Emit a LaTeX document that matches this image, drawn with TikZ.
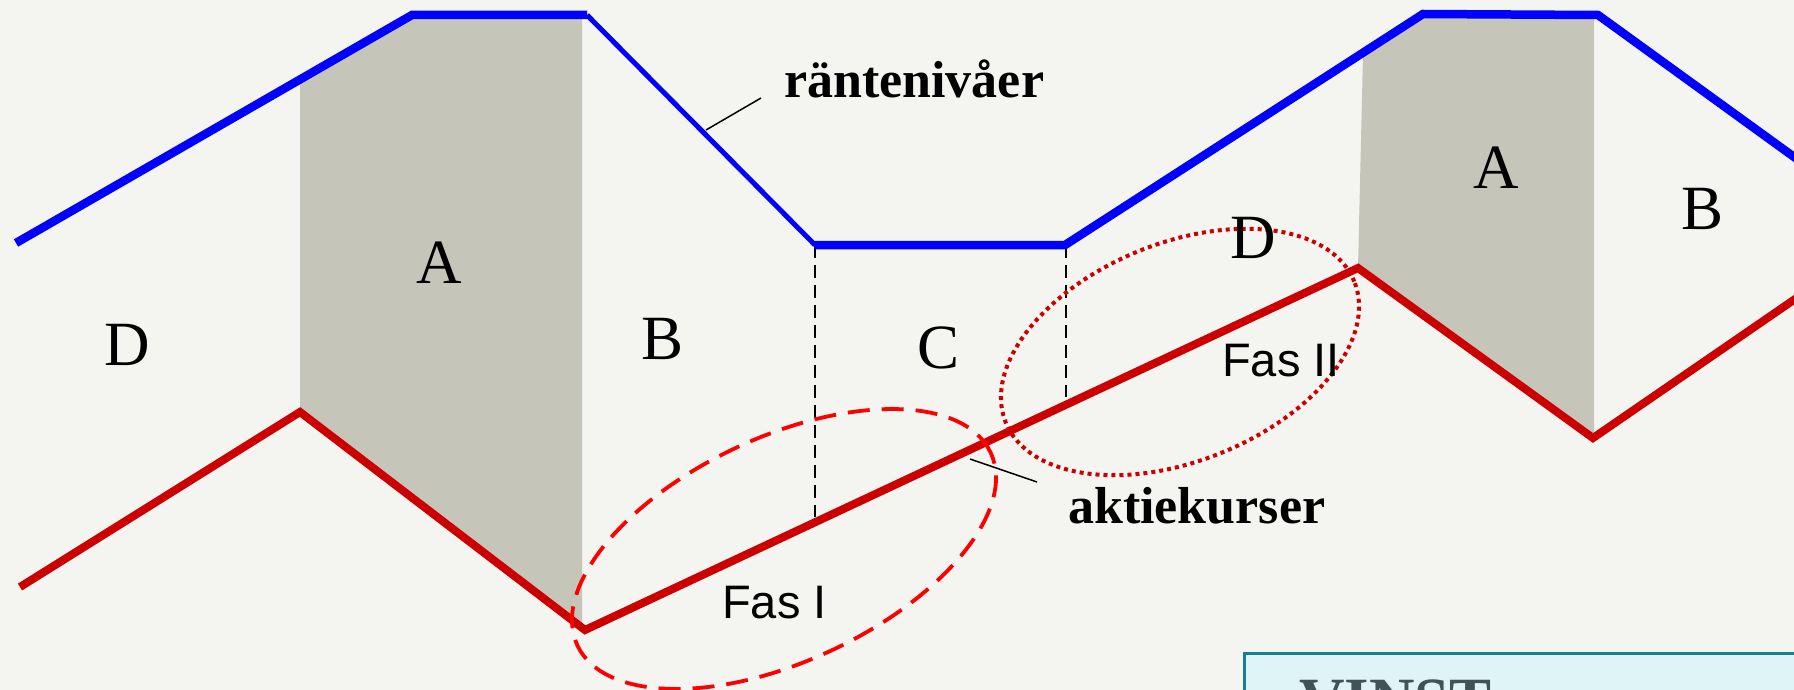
\documentclass[tikz,border=0pt]{standalone}
\usepackage{fontspec}
\setmainfont{Liberation Serif}
\newfontfamily\fassans{Liberation Sans}
\usetikzlibrary{shapes.geometric}
\definecolor{bgc}{HTML}{F4F4F0}
\definecolor{shadec}{HTML}{C5C5B9}
\definecolor{rline}{HTML}{CC0000}
\definecolor{bline}{HTML}{0000FF}
\definecolor{boxedge}{HTML}{15808F}
\definecolor{boxfill}{HTML}{DFF4F6}
\definecolor{boxtext}{HTML}{3F5358}
\begin{document}
\begin{tikzpicture}[x=1pt,y=-1pt,
  phase/.style={font=\fontsize{63}{70}\selectfont, anchor=base, inner sep=0pt},
  curvelabel/.style={font=\bfseries\fontsize{52}{60}\selectfont, anchor=base west, inner sep=0pt},
  faslabel/.style={font=\fassans\fontsize{47}{54}\selectfont, anchor=base west, inner sep=0pt},
  rate/.style={draw=bline, line width=8.5pt, line join=miter},
  ratethin/.style={draw=bline, line width=5pt},
  price/.style={draw=rline, line width=8pt, line join=miter},
  guide/.style={draw=black, line width=1.5pt, dash pattern=on 13pt off 7pt},
  leader/.style={draw=black, line width=1.5pt},
  shaded/.style={fill=shadec},
  fasone/.style={ellipse, draw=red, line width=3.8pt, dash pattern=on 22pt off 12pt,
    inner sep=0pt, minimum width=456pt, minimum height=224pt},
  fastwo/.style={ellipse, draw=rline, line width=4pt, dash pattern=on 4pt off 4pt,
    inner sep=0pt, minimum width=376pt, minimum height=218pt}
]
\path[use as bounding box, fill=bgc] (0,0) rectangle (1794,690);
\clip (0,0) rectangle (1794,690);

% rate line points
\coordinate (b0) at (16,243);
\coordinate (b1) at (412,15);
\coordinate (b2) at (587,15);
\coordinate (b3) at (815,245);
\coordinate (b4) at (1065,245);
\coordinate (b5) at (1423,14);
\coordinate (b6) at (1598,15);
\coordinate (b7) at (1830,183);
% price line points
\coordinate (r0) at (20,587);
\coordinate (r1) at (300,412);
\coordinate (r2) at (585,630);
\coordinate (r3) at (1358,268);
\coordinate (r4) at (1593,438);
\coordinate (r5) at (1830,275);

% shaded A regions
\path[shaded] (300,84) -- (412,19) -- (582,19) -- (582,628) -- (r1) -- cycle;
\path[shaded] (1363,55) -- (1423,18) -- (1594,18) -- (1594,438) -- (r3) -- cycle;

% guides
\coordinate (g1b) at (815,517);
\coordinate (g2t) at (1066,245);
\coordinate (g2b) at (1066,397);
\draw[guide] (b3) -- (g1b);
\draw[guide] (g2t) -- (g2b);

% curves
\draw[rate] (b0) -- (b1) -- (b2);
\draw[ratethin] (b2) -- (b3);
\draw[rate] (b3) -- (b4) -- (b5) -- (b6) -- (b7);
\draw[price] (r0) -- (r1) -- (r2) -- (r3) -- (r4) -- (r5);

% phase ellipses
\node[fasone, rotate=25] (ell1) at (784,549) {};
\node[fastwo, rotate=22] (ell2) at (1180,352) {};

% letters
\node[phase] (dL) at (127,365) {D};
\node[phase] (aL) at (439,283) {A};
\node[phase] (bL) at (663,359) {B};
\node[phase] (cM) at (938,368) {C};
\node[phase] (dR) at (1253,258) {D};
\node[phase] (aR) at (1496,188) {A};
\node[phase] (bR) at (1702,229) {B};

% curve labels with leaders
\node[curvelabel] (rantor) at (784,98) {räntenivåer};
\node[curvelabel] (aktier) at (1068,523) {aktiekurser};
\coordinate (rl1) at (706,130);
\coordinate (rl2) at (761,98);
\coordinate (al1) at (970,459);
\coordinate (al2) at (1037,482);
\draw[leader] (rl1) -- (rl2);
\draw[leader] (al1) -- (al2);

% phase labels
\node[faslabel] (fas1) at (722,618) {Fas I};
\node[faslabel] (fas2) at (1222,376) {Fas II};

% VINST box
\node[draw=boxedge, fill=boxfill, line width=2.5pt, anchor=north west,
  minimum width=700pt, minimum height=120pt, inner sep=0pt] (vinstbox) at (1243,652) {};
\node[font=\bfseries\fontsize{63}{70}\selectfont, text=boxtext, anchor=base west,
  inner sep=0pt] (vinst) at (1299,721) {VINST};
\end{tikzpicture}
\end{document}
